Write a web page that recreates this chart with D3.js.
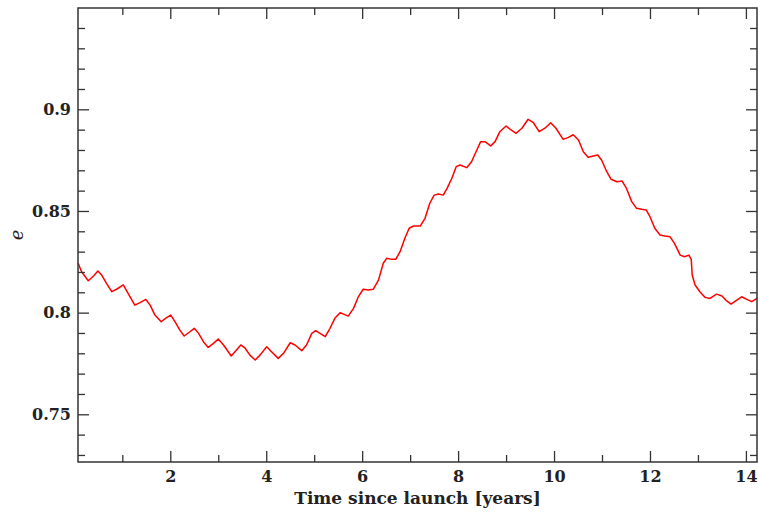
<!DOCTYPE html>
<html>
<head>
<meta charset="utf-8">
<script src="https://cdn.jsdelivr.net/npm/d3@7"></script>
<style>
  body { margin: 0; background: #fff; }
  text { font-family: "DejaVu Serif", serif; font-weight: bold; fill: #222; }
</style>
</head>
<body>
<script>
// time since launch (years)
var years = [0.08, 0.15, 0.29, 0.40, 0.49, 0.57, 0.67, 0.78, 0.88, 1.02,
  1.12, 1.26, 1.37, 1.49, 1.58, 1.68, 1.81, 1.90, 2.01, 2.10,
  2.20, 2.29, 2.41, 2.50, 2.59, 2.69, 2.79, 2.90, 3.00, 3.11,
  3.27, 3.38, 3.47, 3.56, 3.66, 3.77, 3.87, 4.01, 4.11, 4.25,
  4.36, 4.50, 4.60, 4.74, 4.84, 4.95, 5.03, 5.23, 5.33, 5.43,
  5.54, 5.71, 5.82, 5.92, 6.02, 6.13, 6.23, 6.34, 6.44, 6.51,
  6.62, 6.70, 6.79, 6.89, 6.98, 7.07, 7.21, 7.31, 7.41, 7.50,
  7.59, 7.69, 7.77, 7.87, 7.96, 8.04, 8.18, 8.28, 8.39, 8.47,
  8.56, 8.68, 8.77, 8.87, 9.00, 9.08, 9.21, 9.33, 9.46, 9.57,
  9.69, 9.81, 9.93, 10.04, 10.19, 10.30, 10.40, 10.51, 10.61, 10.71,
  10.82, 10.91, 10.99, 11.10, 11.19, 11.31, 11.42, 11.51, 11.62, 11.72,
  11.83, 11.92, 12.00, 12.10, 12.21, 12.31, 12.42, 12.51, 12.63, 12.72,
  12.81, 12.86, 12.88, 12.94, 13.04, 13.15, 13.25, 13.39, 13.50, 13.58,
  13.69, 13.81, 13.91, 14.02, 14.12, 14.24];

// eccentricity
var ecc = [0.8243, 0.8201, 0.8157, 0.8180, 0.8205, 0.8185, 0.8144, 0.8103, 0.8115, 0.8136,
  0.8095, 0.8037, 0.8049, 0.8065, 0.8037, 0.7988, 0.7955, 0.7972, 0.7988, 0.7955,
  0.7914, 0.7885, 0.7906, 0.7923, 0.7898, 0.7857, 0.7829, 0.7849, 0.7870, 0.7841,
  0.7787, 0.7816, 0.7841, 0.7825, 0.7791, 0.7767, 0.7791, 0.7832, 0.7808, 0.7775,
  0.7800, 0.7852, 0.7841, 0.7813, 0.7841, 0.7898, 0.7911, 0.7882, 0.7923, 0.7972,
  0.8000, 0.7983, 0.8021, 0.8078, 0.8115, 0.8111, 0.8115, 0.8160, 0.8243, 0.8267,
  0.8262, 0.8262, 0.8300, 0.8366, 0.8415, 0.8426, 0.8426, 0.8464, 0.8538, 0.8578,
  0.8583, 0.8578, 0.8611, 0.8661, 0.8718, 0.8726, 0.8713, 0.8742, 0.8800, 0.8841,
  0.8841, 0.8820, 0.8841, 0.8890, 0.8918, 0.8902, 0.8882, 0.8907, 0.8951, 0.8934,
  0.8890, 0.8907, 0.8934, 0.8907, 0.8852, 0.8862, 0.8875, 0.8849, 0.8791, 0.8764,
  0.8770, 0.8775, 0.8751, 0.8693, 0.8656, 0.8644, 0.8647, 0.8611, 0.8546, 0.8513,
  0.8508, 0.8505, 0.8472, 0.8415, 0.8382, 0.8377, 0.8373, 0.8341, 0.8283, 0.8275,
  0.8283, 0.8262, 0.8185, 0.8136, 0.8103, 0.8075, 0.8070, 0.8091, 0.8082, 0.8062,
  0.8042, 0.8062, 0.8078, 0.8065, 0.8054, 0.8071];

var xMajor = [2, 4, 6, 8, 10, 12, 14];
var yMajor = [0.75, 0.8, 0.85, 0.9];

var w = 758, h = 514;
var pLeft = 78, pRight = 757, pTop = 8, pBottom = 462;

var x = d3.scaleLinear().domain([0.076, 14.231]).range([pLeft, pRight]);
var y = d3.scaleLinear().domain([0.72654, 0.94983]).range([pBottom, pTop]);

var svg = d3.select("body").append("svg")
    .attr("width", w)
    .attr("height", h);

var xMinor = d3.range(1, 15, 1).filter(function(d) { return xMajor.indexOf(d) < 0; });
var yMinor = d3.range(73, 95, 1).filter(function(d) { return d % 5 != 0; })
    .map(function(d) { return d / 100; });

var axisColor = "#333";

// data line first, frame on top
var line = d3.line()
    .x(function(d, i) { return x(years[i]); })
    .y(function(d) { return y(d); });

svg.append("path")
    .datum(ecc)
    .attr("fill", "none")
    .attr("stroke", "#ff0000")
    .attr("stroke-width", 1.5)
    .attr("stroke-linejoin", "round")
    .attr("d", line);

// ticks point inward on all four sides
var bx = d3.axisBottom(x).tickValues(xMajor).tickSize(-11).tickPadding(9).tickFormat(d3.format("d"));
var tx = d3.axisTop(x).tickValues(xMajor).tickSize(-11).tickFormat("");
var bxm = d3.axisBottom(x).tickValues(xMinor).tickSize(-7).tickFormat("");
var txm = d3.axisTop(x).tickValues(xMinor).tickSize(-7).tickFormat("");

var ly = d3.axisLeft(y).tickValues(yMajor).tickSize(-11).tickPadding(7)
    .tickFormat(function(d) { return String(+d.toFixed(2)); });
var ry = d3.axisRight(y).tickValues(yMajor).tickSize(-11).tickFormat("");
var lym = d3.axisLeft(y).tickValues(yMinor).tickSize(-7).tickFormat("");
var rym = d3.axisRight(y).tickValues(yMinor).tickSize(-7).tickFormat("");

function put(ax, tr) {
  var g = svg.append("g").attr("transform", tr).call(ax);
  g.select(".domain").remove();
  g.selectAll(".tick line").attr("stroke", axisColor).attr("stroke-width", 1.3);
  g.selectAll(".tick text")
    .attr("font-family", "DejaVu Serif")
    .attr("font-weight", "bold")
    .attr("font-size", 16)
    .attr("fill", "#222");
  return g;
}

put(bx, "translate(0," + pBottom + ")");
put(bxm, "translate(0," + pBottom + ")");
put(tx, "translate(0," + pTop + ")");
put(txm, "translate(0," + pTop + ")");
put(ly, "translate(" + pLeft + ",0)");
put(lym, "translate(" + pLeft + ",0)");
put(ry, "translate(" + pRight + ",0)");
put(rym, "translate(" + pRight + ",0)");

svg.append("rect")
    .attr("x", pLeft)
    .attr("y", pTop)
    .attr("width", pRight - pLeft)
    .attr("height", pBottom - pTop)
    .attr("fill", "none")
    .attr("stroke", axisColor)
    .attr("stroke-width", 1.5);

svg.append("text")
    .attr("x", (pLeft + pRight) / 2)
    .attr("y", 504)
    .attr("text-anchor", "middle")
    .attr("font-size", 17)
    .text("Time since launch [years]");

svg.append("text")
    .attr("transform", "translate(23," + ((pTop + pBottom) / 2) + ") rotate(-90)")
    .attr("text-anchor", "middle")
    .style("font-weight", "normal")
    .style("font-style", "italic")
    .attr("font-size", 18)
    .text("e");
</script>
</body>
</html>
